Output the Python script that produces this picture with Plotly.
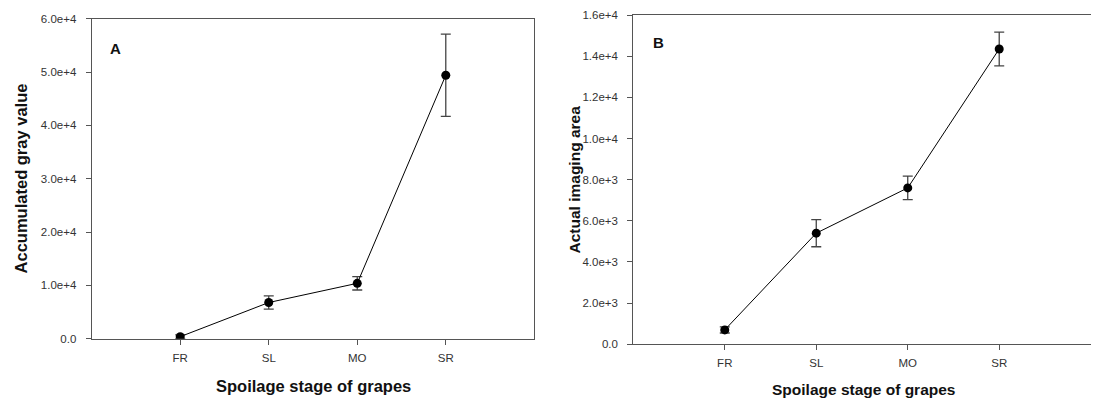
import plotly.graph_objects as go

W, H = 1099, 399
OFF = 8  # page body margin offset of the rendered figure

stages = ["FR", "SL", "MO", "SR"]
stage_pos = [1, 2, 3, 4]

gray_value = [400, 6800, 10400, 49400]
gray_err = [350, 1250, 1250, 7700]

imaging_area = [700, 5400, 7600, 14350]
imaging_err = [150, 660, 570, 820]

ytick_a_vals = [0, 10000, 20000, 30000, 40000, 50000, 60000]
ytick_a_text = ["0.0", "1.0e+4", "2.0e+4", "3.0e+4", "4.0e+4", "5.0e+4", "6.0e+4"]
ytick_b_vals = [0, 2000, 4000, 6000, 8000, 10000, 12000, 14000, 16000]
ytick_b_text = ["0.0", "2.0e+3", "4.0e+3", "6.0e+3", "8.0e+3", "1.0e+4", "1.2e+4", "1.4e+4", "1.6e+4"]

FONT = "Liberation Sans, Arial, sans-serif"
AXC = "#555555"
TICKC = "#333333"

fig = go.Figure()

def add_series(y, err, xa, ya):
    fig.add_trace(go.Scatter(
        x=stage_pos, y=y, xaxis=xa, yaxis=ya, mode="lines+markers",
        line=dict(color="black", width=1),
        marker=dict(color="black", size=9),
        error_y=dict(type="data", array=err, visible=True, color="#444444", thickness=1.3, width=5),
        showlegend=False,
    ))

add_series(gray_value, gray_err, "x", "y")
add_series(imaging_area, imaging_err, "x2", "y2")

def px_x(p):
    return (p - OFF) / W

def px_y(p):
    return 1 - (p - OFF) / H

xcommon = dict(
    range=[0, 5], tickmode="array", tickvals=stage_pos, ticktext=stages,
    showline=True, linecolor=AXC, linewidth=1.2, mirror=True, ticks="outside",
    ticklen=5, tickcolor=AXC, showgrid=False, zeroline=False,
    tickfont=dict(family=FONT, size=11.5, color=TICKC), ticklabelstandoff=3,
)
ycommon = dict(
    showline=True, linecolor=AXC, linewidth=1.2, mirror=True, ticks="outside",
    ticklen=5, tickcolor=AXC, showgrid=False, zeroline=False,
    tickfont=dict(family=FONT, size=11.5, color=TICKC), ticklabelstandoff=7,
)

fig.update_layout(
    width=W, height=H,
    margin=dict(l=0, r=0, t=0, b=0, autoexpand=False),
    paper_bgcolor="white", plot_bgcolor="white",
    xaxis=dict(domain=[px_x(91.7), px_x(534.3)], anchor="y", **xcommon),
    yaxis=dict(domain=[px_y(338.8), px_y(18.7)], anchor="x", range=[0, 60000],
               tickmode="array", tickvals=ytick_a_vals, ticktext=ytick_a_text, **ycommon),
    xaxis2=dict(domain=[px_x(633.3), px_x(1090.7)], anchor="y2", **xcommon),
    yaxis2=dict(domain=[px_y(344.3), px_y(15)], anchor="x2", range=[0, 16000],
                tickmode="array", tickvals=ytick_b_vals, ticktext=ytick_b_text, **ycommon),
)

annots = [
    dict(text="<b>A</b>", x=px_x(115.7), y=px_y(48.5), size=15, angle=0),
    dict(text="<b>B</b>", x=px_x(658), y=px_y(42.7), size=15, angle=0),
    dict(text="<b>Spoilage stage of grapes</b>", x=px_x(313.7), y=px_y(386), size=16.5, angle=0),
    dict(text="<b>Spoilage stage of grapes</b>", x=px_x(863), y=px_y(389.3), size=15.5, angle=0),
    dict(text="<b>Accumulated gray value</b>", x=px_x(21.4), y=px_y(178), size=16.5, angle=-90),
    dict(text="<b>Actual imaging area</b>", x=px_x(574), y=px_y(179.5), size=15.5, angle=-90),
]
for a in annots:
    fig.add_annotation(
        text=a["text"], x=a["x"], y=a["y"], xref="paper", yref="paper",
        xanchor="center", yanchor="middle", showarrow=False, textangle=a["angle"],
        font=dict(family=FONT, size=a["size"], color="#111111"),
    )

fig.write_html("out.html")
